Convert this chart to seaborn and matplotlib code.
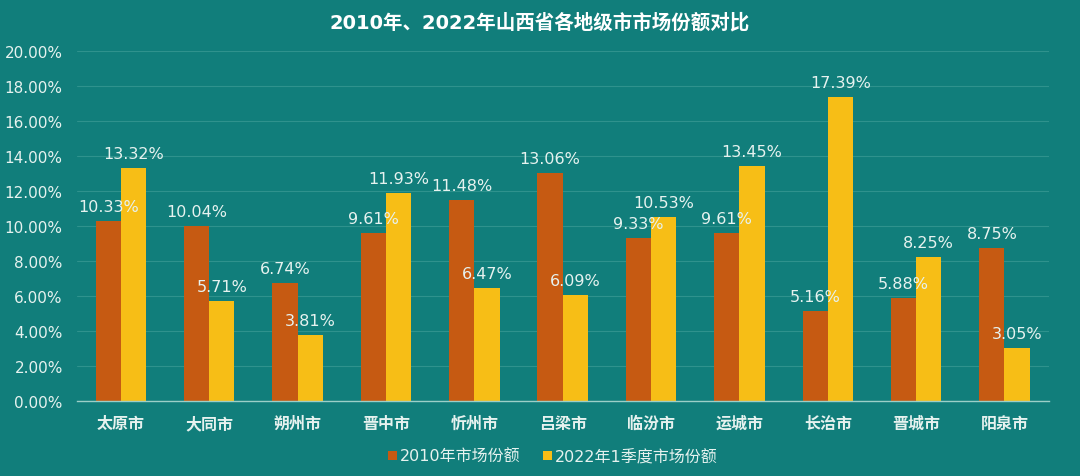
import matplotlib
matplotlib.use("Agg")
import matplotlib.pyplot as plt
import seaborn as sns
import pandas as pd
from matplotlib.ticker import FuncFormatter

cities = ["太原市", "大同市", "朔州市", "晋中市", "忻州市", "吕梁市", "临汾市", "运城市", "长治市", "晋城市", "阳泉市"]
share_2010 = [10.33, 10.04, 6.74, 9.61, 11.48, 13.06, 9.33, 9.61, 5.16, 5.88, 8.75]
share_2022q1 = [13.32, 5.71, 3.81, 11.93, 6.47, 6.09, 10.53, 13.45, 17.39, 8.25, 3.05]
series = ["2010年市场份额", "2022年1季度市场份额"]
title = "2010年、2022年山西省各地级市市场份额对比"

df = pd.DataFrame({
    "city": cities * 2,
    "share": share_2010 + share_2022q1,
    "series": [series[0]] * len(cities) + [series[1]] * len(cities),
})

bg = "#117E7B"
txt = "#E6F2EF"
sns.set_theme(style="white")
plt.rcParams["font.family"] = ["DejaVu Sans", "Noto Sans CJK SC"]

fig = plt.figure(figsize=(10.8, 4.77), dpi=100, facecolor=bg)
ax = fig.add_axes([0.071, 0.157, 0.900, 0.733])
ax.set_facecolor(bg)

sns.barplot(data=df, x="city", y="share", hue="series", order=cities, hue_order=series,
            palette=["#C65A12", "#F7BE16"], width=0.57, saturation=1, ax=ax, legend=True,
            linewidth=0, edgecolor="none")

for cont in ax.containers:
    ax.bar_label(cont, labels=[f"{v:.2f}%" for v in cont.datavalues], padding=5,
                 color=txt, fontsize=11.5, family=["DejaVu Sans"])

ax.set_ylim(0, 20)
ax.set_yticks(range(0, 21, 2))
ax.yaxis.set_major_formatter(FuncFormatter(lambda v, p: f"{v:.2f}%"))
ax.grid(axis="y", color="#2F928D", linewidth=0.8)
ax.set_axisbelow(True)
for s in ["top", "right", "left"]:
    ax.spines[s].set_visible(False)
ax.spines["bottom"].set_color("#9CCFC8")
ax.spines["bottom"].set_linewidth(1.0)
ax.set_xlim(-0.5, len(cities) - 0.5)
ax.set_xlabel("")
ax.set_ylabel("")
ax.tick_params(axis="y", colors=txt, labelsize=11, length=0, pad=10)
ax.tick_params(axis="x", colors=txt, length=0, pad=10)
for lab in ax.get_xticklabels():
    lab.set_family(["Noto Sans CJK SC"])
    lab.set_fontweight("bold")
    lab.set_fontsize(11.5)
ax.set_xticks([i - 0.5 for i in range(len(cities) + 1)], minor=True)
ax.tick_params(axis="x", which="minor", length=5, color="#9CCFC8", direction="out")

leg = ax.legend(loc="upper center", bbox_to_anchor=(0.49, -0.095), ncol=2, frameon=False,
                handlelength=0.55, handleheight=0.55, handletextpad=0.2, columnspacing=1.4,
                prop={"family": ["DejaVu Sans", "Noto Sans CJK SC"], "size": 11.5})
for t in leg.get_texts():
    t.set_color(txt)

fig.text(0.5, 0.952, title, ha="center", va="center", color="white", fontsize=14,
         fontweight="bold", family=["DejaVu Sans", "Noto Sans CJK SC"])

fig.savefig("out.png", dpi=100, facecolor=bg)
